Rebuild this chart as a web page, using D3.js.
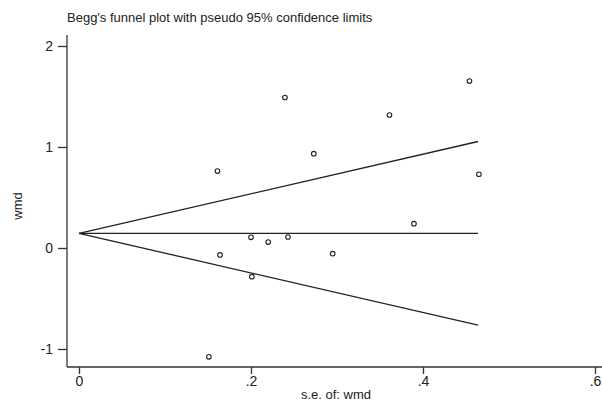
<!DOCTYPE html>
<html>
<head>
<meta charset="utf-8">
<script src="https://cdn.jsdelivr.net/npm/d3@7"></script>
<style>
  body { margin: 0; background: #fff; }
  svg { display: block; font-family: Arial, "Liberation Sans", sans-serif; }
</style>
</head>
<body>
<svg width="602" height="401"></svg>
<script>
// study standard errors and effect sizes
const se = [0.151, 0.161, 0.164, 0.200, 0.201, 0.220, 0.2395, 0.243, 0.273, 0.295, 0.361, 0.3895, 0.454, 0.465]
const wmd = [-1.077, 0.762, -0.069, 0.106, -0.284, 0.059, 1.49, 0.109, 0.934, -0.056, 1.317, 0.241, 1.653, 0.73]

// pooled estimate and the funnel range
const pooled = 0.145
const seMax = 0.464

const xTicks = [0, 0.2, 0.4, 0.6]
const xTickLabels = ['0', '.2', '.4', '.6']
const yTicks = [-1, 0, 1, 2]
const yTickLabels = ['-1', '0', '1', '2']

const svg = d3.select('svg')

const x = d3.scaleLinear().domain([0, 0.6]).range([79, 595])
const y = d3.scaleLinear().domain([0, 2]).range([248, 46])

const plotLeft = 67, plotBottom = 367, plotTop = 35, plotRight = 602

// title
svg.append('text')
    .attr('x', 67)
    .attr('y', 22)
    .style('font-size', '13px')
    .attr('fill', '#222')
    .text("Begg's funnel plot with pseudo 95% confidence limits")

// y axis
const yAxis = d3.axisLeft(y)
    .tickValues(yTicks)
    .tickFormat((d, i) => yTickLabels[i])
    .tickSize(9)
    .tickSizeOuter(0)
    .tickPadding(5)
const gy = svg.append('g')
    .attr('transform', `translate(${plotLeft},0)`)
    .call(yAxis)
gy.select('.domain').attr('d', `M0,${plotTop}V${plotBottom}`)
gy.selectAll('line, path').attr('stroke', '#333').attr('stroke-width', 1.3)
gy.selectAll('text').style('font-size', '14px').attr('fill', '#222').attr('font-family', null)

// x axis
const xAxis = d3.axisBottom(x)
    .tickValues(xTicks)
    .tickFormat((d, i) => xTickLabels[i])
    .tickSize(7)
    .tickSizeOuter(0)
    .tickPadding(2)
const gx = svg.append('g')
    .attr('transform', `translate(0,${plotBottom})`)
    .call(xAxis)
gx.select('.domain').attr('d', `M${plotLeft},0H${plotRight}`)
gx.selectAll('line, path').attr('stroke', '#333').attr('stroke-width', 1.3)
gx.selectAll('text').style('font-size', '14px').attr('fill', '#222').attr('font-family', null)

// axis titles
svg.append('text')
    .attr('x', 336)
    .attr('y', 399)
    .attr('text-anchor', 'middle')
    .style('font-size', '13px')
    .attr('fill', '#222')
    .text('s.e. of: wmd')

svg.append('text')
    .attr('transform', 'translate(22,206) rotate(-90)')
    .attr('text-anchor', 'middle')
    .style('font-size', '13px')
    .attr('fill', '#222')
    .text('wmd')

// funnel lines
const funnel = [
    [[0, pooled], [seMax, pooled + 1.96 * seMax]],
    [[0, pooled], [seMax, pooled]],
    [[0, pooled], [seMax, pooled - 1.96 * seMax]]
]
const line = d3.line().x(d => x(d[0])).y(d => y(d[1]))
svg.selectAll('path.funnel')
    .data(funnel)
    .enter()
    .append('path')
    .attr('class', 'funnel')
    .attr('d', line)
    .attr('fill', 'none')
    .attr('stroke', '#222')
    .attr('stroke-width', 1.3)

// studies
svg.selectAll('circle')
    .data(se)
    .enter()
    .append('circle')
    .attr('cx', d => x(d))
    .attr('cy', (d, i) => y(wmd[i]))
    .attr('r', 2.3)
    .attr('fill', 'none')
    .attr('stroke', '#222')
    .attr('stroke-width', 1.1)
</script>
</body>
</html>
